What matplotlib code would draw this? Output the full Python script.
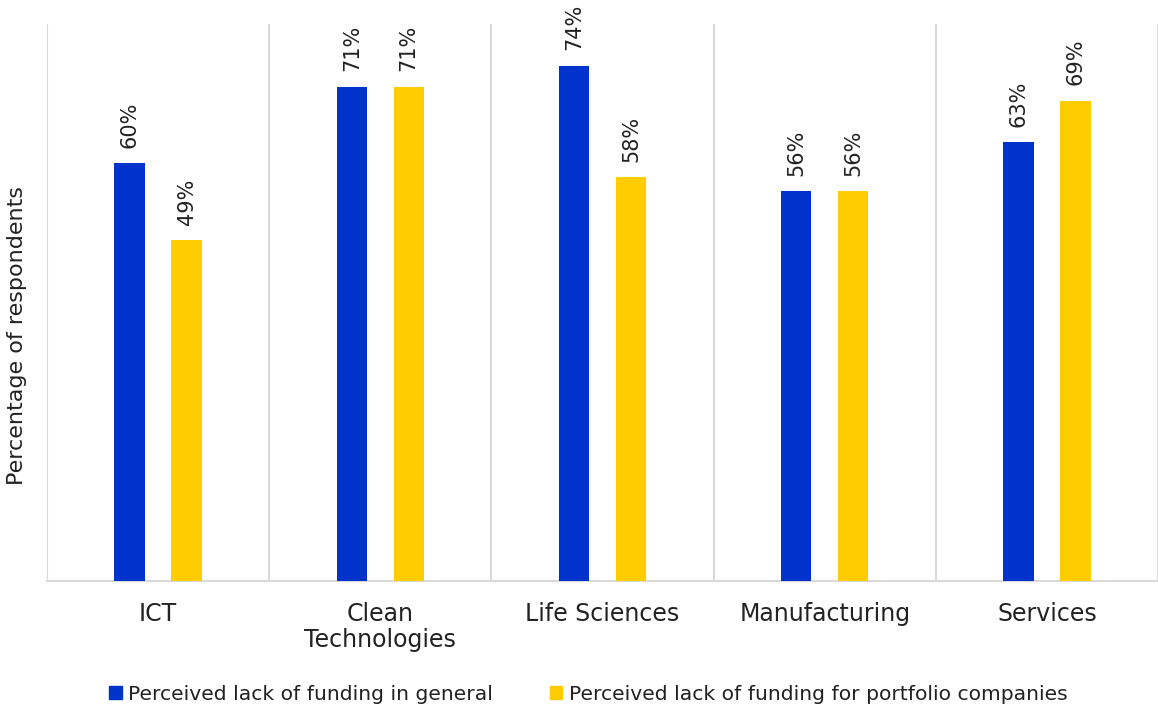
import matplotlib
matplotlib.use("Agg")
import matplotlib.pyplot as plt
import numpy as np
from matplotlib.patches import Patch

categories = ["ICT", "Clean\nTechnologies", "Life Sciences", "Manufacturing", "Services"]
general = [60, 71, 74, 56, 63]
portfolio = [49, 71, 58, 56, 69]
series_names = ["Perceived lack of funding in general",
                "Perceived lack of funding for portfolio companies"]

BLUE = "#0033CC"
YELLOW = "#FFCC00"
GRID = "#D9D9D9"
TEXT = "#222222"

plt.rcParams['font.family'] = ['DejaVu Sans']

fig = plt.figure(figsize=(11.58, 7.10), dpi=100)
ax = fig.add_axes([47/1158, 1-581/710, 1-47/1158, (581-24)/710])

x = np.arange(len(categories))
w = 0.137
off = 0.128
b1 = ax.bar(x - off, general, w, color=BLUE, zorder=3)
b2 = ax.bar(x + off, portfolio, w, color=YELLOW, zorder=3)

for bars, vals in ((b1, general), (b2, portfolio)):
    for r, v in zip(bars, vals):
        ax.annotate(f"{v}%", (r.get_x() + r.get_width()/2, r.get_height()),
                    xytext=(0, 11), textcoords="offset points",
                    rotation=90, ha="center", va="bottom",
                    fontsize=15, color=TEXT, annotation_clip=False)

ax.set_xlim(-0.5, len(categories) - 0.5)
ax.set_ylim(0, 80)
for b in np.arange(-0.5, len(categories), 1.0):
    ax.axvline(b, color=GRID, lw=1.5, zorder=1)

for s in ("top", "right", "left"):
    ax.spines[s].set_visible(False)
ax.spines["bottom"].set_color(GRID)
ax.spines["bottom"].set_linewidth(1.5)
ax.set_yticks([])
ax.set_xticks(x)
ax.set_xticklabels(categories, fontsize=17, color=TEXT, linespacing=1.1)
ax.tick_params(axis="x", length=0, pad=15)
ax.set_ylabel("Percentage of respondents", fontsize=16, color=TEXT)
ax.yaxis.set_label_coords(-0.018, 0.44)

handles = [Patch(color=BLUE), Patch(color=YELLOW)]
fig.legend(handles, series_names, loc="center", bbox_to_anchor=(588/1158, 1-694/710),
           ncol=2, frameon=False, fontsize=14.6, handlelength=0.64, handleheight=0.64,
           handletextpad=0.3, columnspacing=2.8, labelcolor=TEXT)

fig.savefig("out.png", dpi=100)
